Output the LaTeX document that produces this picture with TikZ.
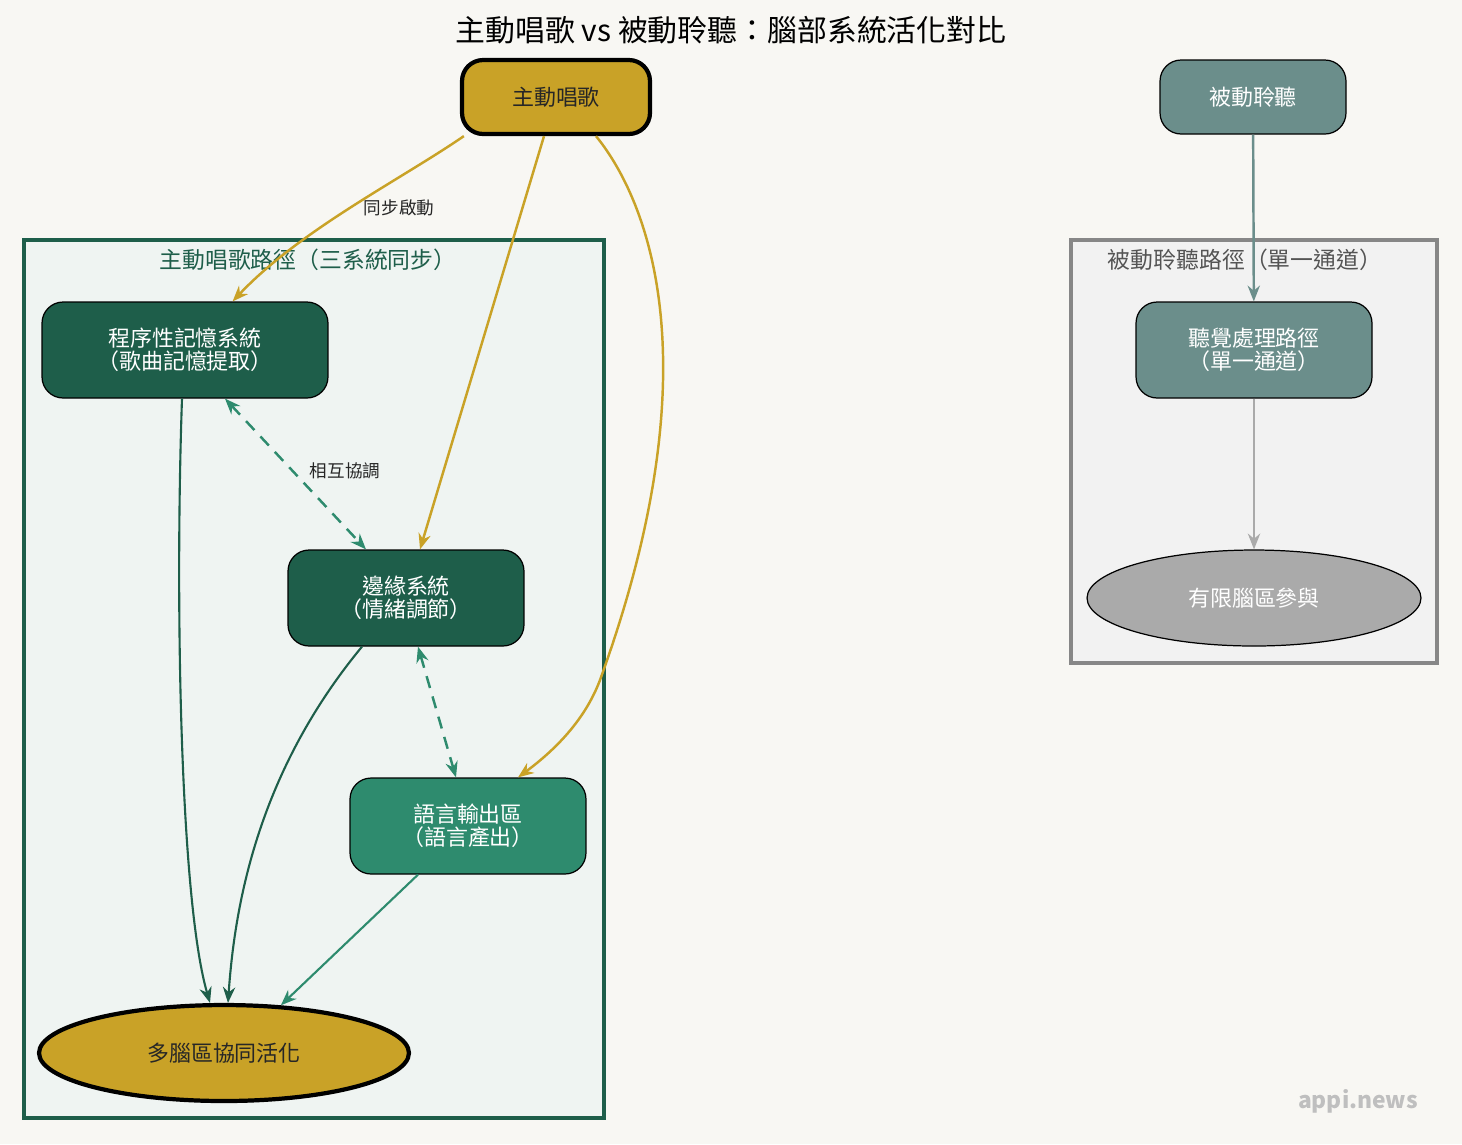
\documentclass[tikz,border=0pt]{standalone}
\usepackage{fontspec}
\setmainfont{Noto Sans CJK TC}
\usetikzlibrary{shapes.geometric,arrows.meta}
\definecolor{bg}{HTML}{F8F7F3}
\definecolor{gold}{HTML}{C9A227}
\definecolor{dg}{HTML}{1E5E4A}
\definecolor{mg}{HTML}{2E8B6E}
\definecolor{sg}{HTML}{6B8E8B}
\definecolor{lg}{HTML}{AAAAAA}
\begin{document}
\begin{tikzpicture}[x=0.02cm,y=-0.02cm,
 box/.style={rectangle,rounded corners=12pt,draw=black,line width=0.7pt,align=center,font=\fontsize{12.5}{13}\selectfont,text=white,inner sep=0pt},
 arr/.style={-{Stealth[length=9pt,width=7pt]},line width=1.4pt},
 lbl/.style={font=\fontsize{10}{11}\selectfont,text=black!85}]
\fill[bg] (0,0) rectangle (1462,1144);
\node[font=\fontsize{17}{18}\selectfont] (title) at (731,30) {主動唱歌 vs 被動聆聽：腦部系統活化對比};
% clusters
\draw[dg,line width=1.8pt,fill=dg!7] (24,240) rectangle (604,1118);
\node[text=dg,font=\fontsize{13}{14}\selectfont] (cl1) at (308,260) {主動唱歌路徑（三系統同步）};
\draw[black!47,line width=1.8pt,fill=black!5] (1071,240) rectangle (1437,663);
\node[text=black!67,font=\fontsize{13}{14}\selectfont] (cl2) at (1245,260) {被動聆聽路徑（單一通道）};
% nodes
\node[box,fill=gold,text=black!85,line width=2.4pt,minimum width=3.76cm,minimum height=1.48cm] (sing) at (556,97) {主動唱歌};
\node[box,fill=sg,minimum width=3.72cm,minimum height=1.48cm] (listen) at (1253,97) {被動聆聽};
\node[box,fill=dg,minimum width=5.72cm,minimum height=1.92cm] (proc) at (185,350) {程序性記憶系統\\（歌曲記憶提取）};
\node[box,fill=dg,minimum width=4.72cm,minimum height=1.92cm] (limb) at (406,598) {邊緣系統\\（情緒調節）};
\node[box,fill=mg,minimum width=4.72cm,minimum height=1.92cm] (lang) at (468,826) {語言輸出區\\（語言產出）};
\node[ellipse,draw=black,line width=2.4pt,fill=gold,minimum width=7.4cm,minimum height=1.92cm,font=\fontsize{12.5}{13}\selectfont,text=black!85] (multi) at (224,1053) {多腦區協同活化};
\node[box,fill=sg,minimum width=4.72cm,minimum height=1.92cm] (aud) at (1254,350) {聽覺處理路徑\\（單一通道）};
\node[ellipse,draw=black,line width=0.7pt,fill=lg,minimum width=6.68cm,minimum height=1.92cm,font=\fontsize{12.5}{13}\selectfont,text=white] (lim) at (1254,598) {有限腦區參與};
\node[text=black!25,font=\bfseries\fontsize{13}{14}\selectfont] (wm) at (1358,1101) {appi.news};
% edges
\draw[arr,gold] (sing.203) .. controls (400,180) and (300,230) .. ([xshift=-1.92cm]proc.north east);
\node[lbl] (l1) at (399,208) {同步啟動};
\draw[arr,gold] ([xshift=-0.24cm]sing.south) -- ([xshift=0.28cm]limb.north);
\draw[arr,gold] ([xshift=0.8cm]sing.south) .. controls (640,190) and (720,350) .. (600,680) .. controls (585,720) and (555,750) .. ([xshift=1cm]lang.north);
\draw[{Stealth[length=9pt,width=7pt]}-{Stealth[length=9pt,width=7pt]},mg,line width=1.4pt,dash pattern=on 7pt off 5pt] ([xshift=0.8cm]proc.south) -- ([xshift=-0.8cm]limb.north);
\node[lbl] (l2) at (345,471) {相互協調};
\draw[{Stealth[length=9pt,width=7pt]}-{Stealth[length=9pt,width=7pt]},mg,line width=1.4pt,dash pattern=on 7pt off 5pt] ([xshift=0.24cm]limb.south) -- ([xshift=-0.24cm]lang.north);
\draw[arr,dg,line width=1.2pt] ([xshift=-0.06cm]proc.south) .. controls (175,600) and (180,900) .. ([xshift=-0.28cm]multi.north);
\draw[arr,dg,line width=1.2pt] ([xshift=-0.88cm]limb.south) .. controls (260,770) and (235,900) .. ([xshift=0.08cm]multi.north);
\draw[arr,mg,line width=1.2pt] ([xshift=-1cm]lang.south) -- (multi.40);
\draw[arr,sg] (listen) -- (aud);
\draw[arr,lg] (aud) -- (lim);
\end{tikzpicture}
\end{document}
